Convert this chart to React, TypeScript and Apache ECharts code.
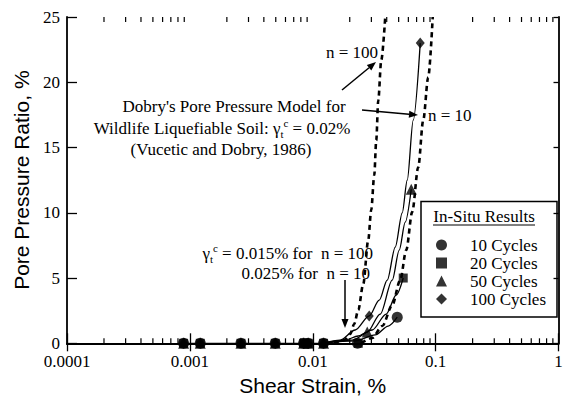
import React, { useEffect, useRef } from 'react';
import * as echarts from 'echarts';

const SERIF = '"Liberation Serif", "Times New Roman", serif';
const SANS = '"Liberation Sans", Arial, sans-serif';

// axis ticks
const xTickLabels = ['0.0001', '0.001', '0.01', '0.1', '1'];
const minorMultipliers = [2, 3, 4, 5, 6, 7, 8, 9];
const minorDecades = [0.0001, 0.001, 0.01, 0.1];

// in-situ results (shear strain %, pore pressure ratio %)
const seriesNames = ['10 Cycles', '20 Cycles', '50 Cycles', '100 Cycles'];
const seriesSymbols = ['circle', 'rect', 'triangle', 'diamond'];
const zeroStrains = [0.000889, 0.001215, 0.002604, 0.004953, 0.008417, 0.009193, 0.01224];
const pts10 = [[0.02315, 0], [0.0487, 2.0]];
const pts20 = [[0.02346, 0], [0.0545, 5.0]];
const pts50 = [[0.02777, 0.86], [0.06332, 11.8]];
const pts100 = [[0.02882, 2.1], [0.07494, 23.0]];

// fitted curves through in-situ results
const baseline = [[0.000889, 0], [0.01217, 0]];
const fit10 = [[0.01217, 0], [0.02217, 0.18], [0.03226, 0.64], [0.04114, 1.32], [0.0487, 2.0]];
const fit20 = [[0.01217, 0], [0.02096, 0.25], [0.03049, 1.02], [0.03963, 2.24], [0.0478, 3.7], [0.0545, 5.0]];
const fit50 = [[0.01217, 0], [0.01839, 0.25], [0.02346, 0.56], [0.02777, 0.86], [0.03543, 2.24], [0.04436, 4.84], [0.05056, 7.14], [0.05657, 9.28], [0.06332, 11.8]];
const fit100 = [[0.01217, 0], [0.01674, 0.25], [0.02217, 1.02], [0.02882, 2.1], [0.03477, 3.31], [0.04038, 4.84], [0.04692, 7.37], [0.05349, 10.0], [0.05874, 12.5], [0.06573, 17.1], [0.07494, 23.0]];

// Dobry's pore pressure model
const dobry100 = [[0.01496, 0], [0.01805, 0.25], [0.02019, 0.71], [0.02176, 1.48], [0.02346, 2.55], [0.02576, 4.54], [0.02829, 7.9], [0.02992, 10.23], [0.03166, 12.88], [0.03287, 15.55], [0.03412, 18.6], [0.0361, 21.68], [0.0389, 25]];
const dobry10 = [[0.02481, 0], [0.03049, 0.41], [0.03678, 1.32], [0.04436, 2.93], [0.05152, 4.84], [0.05765, 7.14], [0.06451, 10.07], [0.07218, 13.49], [0.07927, 17.09], [0.08706, 20.38], [0.09471, 25]];

function arrow(x1: number, y1: number, x2: number, y2: number): any[] {
  const dx = x2 - x1;
  const dy = y2 - y1;
  const len = Math.sqrt(dx * dx + dy * dy);
  const ux = dx / len;
  const uy = dy / len;
  const hl = 9;
  const hw = 3.5;
  const bx = x2 - ux * hl;
  const by = y2 - uy * hl;
  return [
    { type: 'line', shape: { x1, y1, x2: bx, y2: by }, style: { stroke: '#000', lineWidth: 1.5 } },
    {
      type: 'polygon',
      shape: { points: [[x2, y2], [bx - uy * hw, by + ux * hw], [bx + uy * hw, by - ux * hw]] },
      style: { fill: '#000' },
    },
  ];
}

const richStyles = {
  n: { fontSize: 17, fontFamily: SERIF, fill: '#000', lineHeight: 22 },
  sub: { fontSize: 11, fontFamily: SERIF, fill: '#000', lineHeight: 11, verticalAlign: 'bottom' },
  sup: { fontSize: 11, fontFamily: SERIF, fill: '#000', lineHeight: 11, verticalAlign: 'top' },
};

export default function App() {
  const ref = useRef<HTMLDivElement>(null);
  useEffect(() => {
    if (!ref.current) return;
    const chart = echarts.init(ref.current, null, { renderer: 'svg' });
    const minorTicks: number[] = [];
    minorDecades.forEach((d) => minorMultipliers.forEach((m) => minorTicks.push(d * m)));

    const lineSeries = (name: string, data: number[][], dotted: boolean) => ({
      type: 'line',
      name,
      data,
      showSymbol: false,
      smooth: 0.3,
      smoothMonotone: 'x',
      silent: true,
      z: 2,
      lineStyle: dotted
        ? { color: '#000', width: 2.6, type: [5, 4] }
        : { color: '#000', width: 1.3, type: 'solid' },
    });

    const pts = [pts10, pts20, pts50, pts100];
    const sizes: any[] = [11, 9, 11, [9, 11]];
    const scatterSeries = seriesNames.map((name, i) => ({
      type: 'scatter',
      name,
      symbol: seriesSymbols[i],
      symbolSize: sizes[i],
      itemStyle: { color: '#000' },
      z: 4,
      data: zeroStrains.map((x) => [x, 0]).concat(pts[i]),
    }));

    const axisLineStyle = { color: '#000', width: 1.8 };

    chart.setOption({
      animation: false,
      backgroundColor: '#fff',
      grid: { left: 67, right: 4.5, top: 17, bottom: 56.7, outerBoundsMode: 'none' },
      xAxis: [
        {
          type: 'log',
          logBase: 10,
          min: 0.0001,
          max: 1,
          position: 'bottom',
          name: 'Shear Strain, %',
          nameLocation: 'middle',
          nameGap: 32,
          nameTextStyle: { fontFamily: SANS, fontSize: 21, color: '#000' },
          axisLine: { lineStyle: axisLineStyle },
          axisTick: { inside: true, length: 10, lineStyle: { color: '#000', width: 1.3 } },
          axisLabel: {
            fontFamily: SERIF,
            fontSize: 17,
            color: '#000',
            margin: 10,
            formatter: (v: number) => xTickLabels[Math.round(Math.log10(v)) + 4],
          },
          splitLine: { show: false },
        },
        {
          type: 'log',
          logBase: 10,
          min: 0.0001,
          max: 1,
          position: 'top',
          axisLine: { lineStyle: axisLineStyle },
          axisTick: { inside: true, length: 8, lineStyle: { color: '#000', width: 1.3 } },
          axisLabel: { show: false },
          splitLine: { show: false },
        },
      ],
      yAxis: [
        {
          type: 'value',
          min: 0,
          max: 25,
          interval: 5,
          position: 'left',
          name: 'Pore Pressure Ratio, %',
          nameLocation: 'middle',
          nameGap: 28,
          nameTextStyle: { fontFamily: SANS, fontSize: 21, color: '#000' },
          axisLine: { show: true, lineStyle: axisLineStyle },
          axisTick: { show: true, inside: true, length: 10, lineStyle: { color: '#000', width: 1.3 } },
          axisLabel: { fontFamily: SERIF, fontSize: 17, color: '#000', margin: 7 },
          splitLine: { show: false },
        },
        {
          type: 'value',
          min: 0,
          max: 25,
          interval: 5,
          position: 'right',
          axisLine: { show: true, lineStyle: axisLineStyle },
          axisTick: { show: true, inside: true, length: 5, lineStyle: { color: '#000', width: 1.3 } },
          axisLabel: { show: false },
          splitLine: { show: false },
        },
      ],
      legend: {
        data: seriesNames,
        orient: 'vertical',
        left: 436,
        top: 236,
        itemWidth: 11,
        itemHeight: 11,
        itemGap: 0,
        padding: 0,
        selectedMode: false,
        textStyle: { fontFamily: SERIF, fontSize: 17, color: '#000', lineHeight: 18, padding: [0, 0, 0, 18] },
      },
      graphic: [
        { type: 'rect', shape: { x: 421, y: 201.5, width: 136, height: 115.5 }, style: { fill: 'none', stroke: '#000', lineWidth: 1.5 }, z: 10 },
        { type: 'text', x: 484, y: 216.5, style: { text: 'In-Situ Results', fontFamily: SERIF, fontSize: 17, fill: '#000', align: 'center', verticalAlign: 'middle' }, z: 10 },
        { type: 'line', shape: { x1: 433, y1: 225, x2: 535, y2: 225 }, style: { stroke: '#000', lineWidth: 1.2 }, z: 10 },
        { type: 'text', x: 378, y: 52, style: { text: 'n = 100', fontFamily: SERIF, fontSize: 17, fill: '#000', align: 'right', verticalAlign: 'middle' }, z: 10 },
        ...arrow(342, 90, 376, 62).map((e) => ({ ...e, z: 10 })),
        { type: 'text', x: 234, y: 106, style: { text: "Dobry's Pore Pressure Model for", fontFamily: SERIF, fontSize: 17, fill: '#000', align: 'center', verticalAlign: 'middle' }, z: 10 },
        { type: 'text', x: 222, y: 128, style: { text: '{n|Wildlife Liquefiable Soil: γ}{sub|t}{sup|c}{n| = 0.02%}', rich: richStyles, align: 'center', verticalAlign: 'middle' }, z: 10 },
        { type: 'text', x: 221, y: 149, style: { text: '(Vucetic and Dobry, 1986)', fontFamily: SERIF, fontSize: 17, fill: '#000', align: 'center', verticalAlign: 'middle' }, z: 10 },
        ...arrow(362, 110, 418, 115).map((e) => ({ ...e, z: 10 })),
        { type: 'text', x: 428, y: 115, style: { text: 'n = 10', fontFamily: SERIF, fontSize: 17, fill: '#000', align: 'left', verticalAlign: 'middle' }, z: 10 },
        { type: 'text', x: 373, y: 253, style: { text: '{n|γ}{sub|t}{sup|c}{n| = 0.015% for  n = 100}', rich: richStyles, align: 'right', verticalAlign: 'middle' }, z: 10 },
        { type: 'text', x: 370, y: 273, style: { text: '0.025% for  n = 10', fontFamily: SERIF, fontSize: 17, fill: '#000', align: 'right', verticalAlign: 'middle' }, z: 10 },
        ...arrow(345, 280, 345, 328).map((e) => ({ ...e, z: 10 })),
      ],
      series: [
        lineSeries('baseline', baseline, false),
        lineSeries('fit 10', fit10, false),
        lineSeries('fit 20', fit20, false),
        lineSeries('fit 50', fit50, false),
        lineSeries('fit 100', fit100, false),
        lineSeries('Dobry n = 100', dobry100, true),
        lineSeries('Dobry n = 10', dobry10, true),
        ...scatterSeries,
        {
          type: 'custom',
          name: 'minor ticks',
          silent: true,
          clip: false,
          z: 3,
          data: minorTicks.map((v) => [v, 0]),
          encode: { x: 0, y: 1 },
          renderItem: (_p: any, api: any) => {
            const v = api.value(0);
            const b = api.coord([v, 0]);
            const t = api.coord([v, 25]);
            return {
              type: 'group',
              children: [
                { type: 'line', shape: { x1: b[0], y1: b[1], x2: b[0], y2: b[1] - 5 }, style: { stroke: '#000', lineWidth: 1.2 } },
                { type: 'line', shape: { x1: t[0], y1: t[1], x2: t[0], y2: t[1] + 5 }, style: { stroke: '#000', lineWidth: 1.2 } },
              ],
            };
          },
        },
      ],
    });
    return () => chart.dispose();
  }, []);
  return <div ref={ref} style={{ position: 'fixed', left: 0, top: 0, width: 563, height: 400 }} />;
}
